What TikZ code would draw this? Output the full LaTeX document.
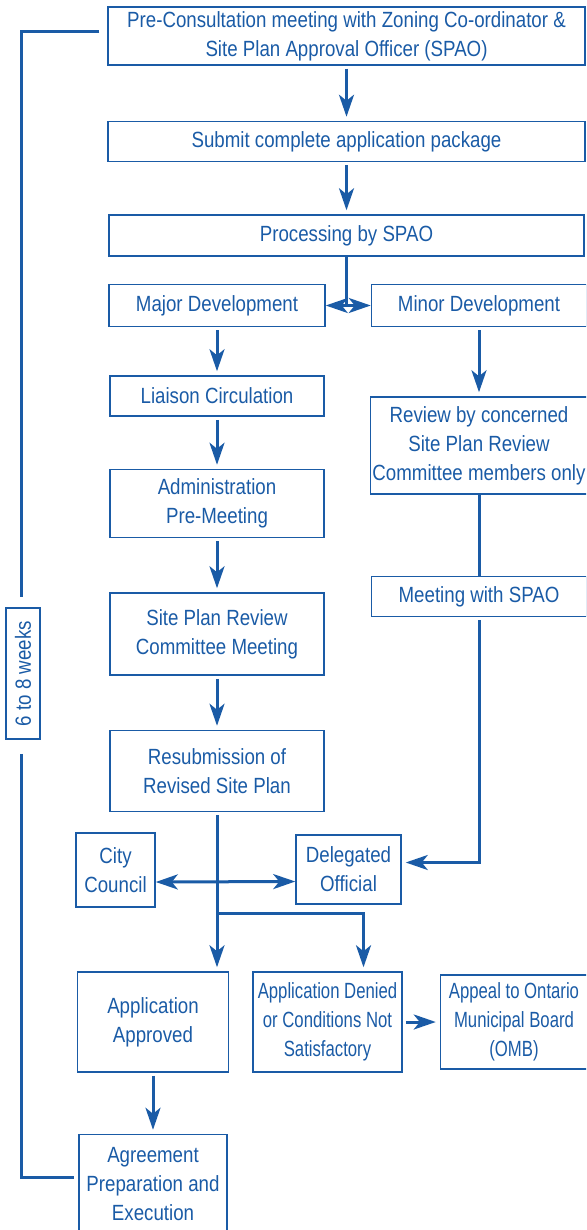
\documentclass[tikz,border=0pt]{standalone}
\usepackage{fontspec}
\setmainfont[FakeStretch=0.85]{Liberation Sans}
\newfontfamily\narrowsans[FakeStretch=0.76]{Liberation Sans}
\usepackage{xcolor}
\usepackage{tikz}
\usetikzlibrary{arrows.meta,positioning}
\definecolor{ink}{HTML}{1A5BA6}

\begin{document}
\begin{tikzpicture}[
  node distance=26pt and 22pt,
  >={Stealth[length=11pt,width=7.5pt,inset=3pt]},
  box/.style={draw=ink,line width=0.75pt,text=ink,align=center,inner sep=1pt,
    font=\fontsize{11}{14.5}\selectfont},
  tightbox/.style={box,font=\narrowsans\fontsize{11}{14.5}\selectfont},
  arr/.style={->,line width=1.5pt,color=ink,shorten <=1.5pt,shorten >=2pt},
  link/.style={line width=1.5pt,color=ink}
]
\useasboundingbox (0,0) rectangle (293pt,-615pt);
\clip (0,0) rectangle (293pt,-615pt);
% main column
\node[box,minimum width=238.5pt,minimum height=29pt] (precon) at (173.25pt,-18pt)
  {Pre-Consultation meeting with Zoning Co-ordinator \&\\Site Plan Approval Officer (SPAO)};
\node[box,minimum width=238.5pt,minimum height=20pt,below=27.5pt of precon] (submit)
  {Submit complete application package};
\node[box,minimum width=237.5pt,minimum height=20.5pt,below=26pt of submit] (spao)
  {Processing by SPAO};
\node[box,minimum width=108pt,minimum height=21pt,below=13.5pt of spao.south west,anchor=north west] (major)
  {Major Development};
\node[box,minimum width=107.5pt,minimum height=21pt,right=22.5pt of major] (minor)
  {Minor Development};
% major branch
\node[box,minimum width=107pt,minimum height=20pt,below=24pt of major] (liaison) {Liaison Circulation};
\node[box,minimum width=107pt,minimum height=34pt,below=26pt of liaison] (admin) {Administration\\Pre-Meeting};
\node[box,minimum width=107pt,minimum height=41pt,below=27pt of admin] (committee) {Site Plan Review\\Committee Meeting};
\node[box,minimum width=107pt,minimum height=40.5pt,below=27pt of committee] (resubmit) {Resubmission of\\Revised Site Plan};
% minor branch
\node[box,minimum width=107.5pt,minimum height=48.5pt,below=34.5pt of minor] (review)
  {Review by concerned\\Site Plan Review\\Committee members only};
\node[box,minimum width=107.5pt,minimum height=20pt,below=40.5pt of review] (meeting) {Meeting with SPAO};
% decision
\node[box,minimum width=39.5pt,minimum height=37pt] (council) at (57.75pt,-435pt) {City\\Council};
\node[box,minimum width=52.5pt,minimum height=34.5pt] (delegate) at (174.25pt,-434.75pt) {Delegated\\Official};
\node[box,minimum width=75.5pt,minimum height=50pt] (approved) at (76.5pt,-511pt) {Application\\Approved};
\node[tightbox,minimum width=74.5pt,minimum height=50pt,right=11.5pt of approved] (denied)
  {Application Denied\\or Conditions Not\\Satisfactory};
\node[tightbox,minimum width=73.5pt,minimum height=47pt,right=18.5pt of denied] (omb)
  {Appeal to Ontario\\Municipal Board\\(OMB)};
\node[box,minimum width=74pt,minimum height=49.5pt,below=30.5pt of approved] (agree)
  {Agreement\\Preparation and\\Execution};
\node[box,rotate=90,minimum width=65.5pt,minimum height=17pt] (weeks) at (11.5pt,-336.75pt) {6 to 8 weeks};

\draw[arr] (precon) -- (submit);
\draw[arr] (submit) -- (spao);
\draw[link] (spao) -- (spao |- major.east);
\draw[arr,<->,shorten <=0pt,shorten >=0pt] (major) -- (minor);
\draw[arr] (major) -- (liaison);
\draw[arr] (liaison) -- (admin);
\draw[arr] (admin) -- (committee);
\draw[arr] (committee) -- (resubmit);
\draw[arr] (minor) -- (review);
\draw[link] (review) -- (meeting);
\draw[arr] (meeting.south) |- ([yshift=3.5pt]delegate.east);
\draw[arr,<->,shorten <=0pt,shorten >=0pt] ([yshift=-6pt]council.east) -- ([yshift=-6pt]delegate.west);
\draw[arr] (resubmit) -- (resubmit |- approved.north);
\coordinate (fork) at (resubmit |- 0,-456.5pt);
\draw[arr,shorten <=0pt] (fork) -| ([xshift=18pt]denied.north);
\draw[arr] (denied.east) -- (denied.east -| omb.west);
\draw[arr] (approved) -- (agree);
% time span bracket
\draw[link,shorten <=4pt,shorten >=5pt] ([yshift=2pt]precon.west) -| ([xshift=-1pt]weeks.east);
\draw[link,shorten <=7pt,shorten >=2pt] ([xshift=-1pt]weeks.west) |- ([yshift=3.25pt]agree.west);
\end{tikzpicture}
\end{document}
